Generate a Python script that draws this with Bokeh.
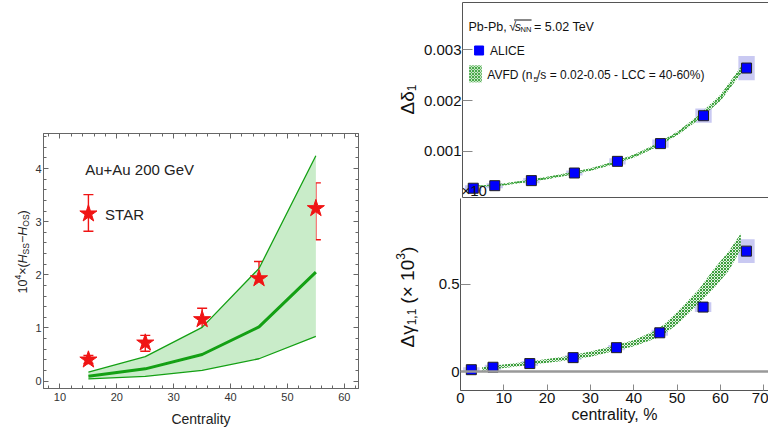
import numpy as np
from bokeh.plotting import figure
from bokeh.layouts import row, column
from bokeh.models import (Range1d, LinearAxis, SingleIntervalTicker, FixedTicker,
                          Label, Span, Whisker, TeeHead, ColumnDataSource,
                          PrintfTickFormatter)
from bokeh.embed import file_html
from bokeh.resources import INLINE

# ---------------- data: left panel (STAR, Au+Au 200 GeV) ----------------
star_cent = [15, 25, 35, 45, 55]
star_val = [0.40, 0.72, 1.16, 1.93, 3.25]
star_lo = [0.33, 0.56, 0.92, 1.56, 2.66]
star_hi = [0.48, 0.86, 1.37, 2.25, 3.73]
legend_star_cent = [15]
legend_star_val = [3.15]
legend_star_lo = [2.82]
legend_star_hi = [3.51]
model_cent = [15, 25, 35, 45, 55]
model_upper = [0.17, 0.46, 1.01, 2.12, 4.24]
model_mid = [0.09, 0.23, 0.50, 1.02, 2.05]
model_lower = [0.04, 0.09, 0.20, 0.42, 0.84]

# ---------------- data: right panels (ALICE, Pb-Pb 5.02 TeV) ----------------
alice_cent = [2.5, 7.5, 16, 26, 36, 46, 56, 66]
alice_d1 = [0.00027, 0.00032, 0.00042, 0.00057, 0.00080, 0.00115, 0.00170, 0.00264]
alice_d1_sys = [0.00006, 0.00005, 0.00005, 0.00005, 0.00006, 0.00008, 0.00014, 0.00024]
alice_g11 = [0.011, 0.025, 0.046, 0.080, 0.137, 0.222, 0.369, 0.689]
alice_g11_sys = [0.014, 0.014, 0.014, 0.014, 0.015, 0.017, 0.028, 0.068]

avfd_cent_d = [3, 5, 10, 15, 20, 25, 30, 35, 40, 45, 50, 55, 60, 65.5]
avfd_d1_lo = [0.000295, 0.00030, 0.00033, 0.00039, 0.00045, 0.00053, 0.00062,
              0.00074, 0.00088, 0.00108, 0.00132, 0.00163, 0.00200, 0.00262]
avfd_d1_hi = [0.000325, 0.00033, 0.00037, 0.00043, 0.00050, 0.00058, 0.00067,
              0.00079, 0.00094, 0.00114, 0.00139, 0.00172, 0.00212, 0.00276]
avfd_cent_g = [5, 10, 15, 20, 25, 30, 35, 40, 45, 47, 50, 55, 58.6, 62, 64.7]
avfd_g_lo = [0.005, 0.02, 0.035, 0.05, 0.065, 0.085, 0.115, 0.145, 0.19, 0.215,
             0.27, 0.39, 0.48, 0.58, 0.70]
avfd_g_hi = [0.025, 0.04, 0.055, 0.072, 0.09, 0.115, 0.145, 0.18, 0.235, 0.27,
             0.34, 0.47, 0.59, 0.69, 0.79]

x_ticks_right = [0, 10, 20, 30, 40, 50, 60, 70]

FONT = "Liberation Sans"


def conv(x0, x1, y0, y1, fl, fr, ft, fb):
    """map page pixel positions to data coordinates of a frame"""
    def cx(px):
        return x0 + (px - fl) * (x1 - x0) / (fr - fl)

    def cy(py):
        return y1 - (py - ft) * (y1 - y0) / (fb - ft)
    return cx, cy


def rot_label(p, cx, cy, pieces, x_center, y_start, color="#111111"):
    y = y_start
    for text, size, shift, width, style in pieces:
        p.add_layout(Label(x=cx(x_center + shift), y=cy(y), text=text,
                           angle=np.pi / 2, text_align="left",
                           text_baseline="middle", text_font=FONT,
                           text_font_size=f"{size}px", text_font_style=style,
                           text_color=color))
        y -= width


def hlabel(p, cx, cy, px, py, text, size, style="normal", color="#111111"):
    p.add_layout(Label(x=cx(px), y=cy(py), text=text, text_align="left",
                       text_baseline="middle", text_font=FONT,
                       text_font_size=f"{size}px", text_font_style=style,
                       text_color=color))


def strip_fig(page_x0, w, page_y0, h, frame_top, frame_bottom):
    """blank figure whose frame maps 1:1 onto page pixels (y data = -page y)"""
    f = figure(width=w, height=h, x_range=Range1d(page_x0, page_x0 + w),
               y_range=Range1d(-frame_bottom, -frame_top),
               x_axis_type=None, y_axis_type=None, output_backend="svg",
               toolbar_location=None, min_border=0, min_border_left=0,
               min_border_right=0, min_border_top=frame_top - page_y0,
               min_border_bottom=page_y0 + h - frame_bottom)
    f.outline_line_color = None
    f.xgrid.visible = False
    f.ygrid.visible = False
    return f


def page_xy(px):
    return px


def page_y(py):
    return -py


# ======================= LEFT PANEL =======================
LX0, LX1, LY0, LY1 = 7.1, 62.5, -0.14, 4.66
LAB_L_W = 32
pl = figure(width=380 - LAB_L_W, height=432, x_range=Range1d(LX0, LX1),
            y_range=Range1d(LY0, LY1),
            x_axis_type=None, y_axis_type=None, output_backend="svg",
            toolbar_location=None, min_border_left=41 - LAB_L_W, min_border_right=22,
            min_border_top=133, min_border_bottom=44)
pl.outline_line_color = "#666666"
pl.xgrid.visible = False
pl.ygrid.visible = False

frame_col = "#666666"


def style_frame_axis(ax, labels=True):
    ax.axis_line_color = frame_col
    ax.major_tick_line_color = frame_col
    ax.minor_tick_line_color = frame_col
    ax.major_tick_in = 5
    ax.major_tick_out = 0
    ax.minor_tick_in = 3
    ax.minor_tick_out = 0
    ax.major_label_text_font = FONT
    ax.major_label_text_font_size = "11px"
    ax.major_label_text_color = "#333333" if labels else None
    ax.major_label_standoff = 2 if labels else 0


xb = LinearAxis(ticker=SingleIntervalTicker(interval=10, num_minor_ticks=5),
                axis_label="Centrality")
style_frame_axis(xb)
xb.major_label_standoff = 4
xb.axis_label_text_font = FONT
xb.axis_label_text_font_size = "14px"
xb.axis_label_text_font_style = "normal"
xb.axis_label_text_color = "#222222"
xb.axis_label_standoff = 7
pl.add_layout(xb, "below")
yl = LinearAxis(ticker=SingleIntervalTicker(interval=1, num_minor_ticks=5))
style_frame_axis(yl)
pl.add_layout(yl, "left")
xa = LinearAxis(ticker=SingleIntervalTicker(interval=10, num_minor_ticks=5))
style_frame_axis(xa, labels=False)
pl.add_layout(xa, "above")
yr = LinearAxis(ticker=SingleIntervalTicker(interval=1, num_minor_ticks=5))
style_frame_axis(yr, labels=False)
pl.add_layout(yr, "right")

green = "#14a014"
pl.varea(x=model_cent, y1=model_lower, y2=model_upper, fill_color="#c9ecc9", fill_alpha=1.0)
pl.line(model_cent, model_upper, line_color=green, line_width=1.3)
pl.line(model_cent, model_lower, line_color=green, line_width=1.3)
pl.line(model_cent, model_mid, line_color=green, line_width=3)

star_src = ColumnDataSource(dict(x=star_cent + legend_star_cent,
                                 y=star_val + legend_star_val,
                                 lo=star_lo + legend_star_lo,
                                 hi=star_hi + legend_star_hi))
red = "#f01414"
pl.add_layout(Whisker(source=star_src, base="x", lower="lo", upper="hi",
                      line_color=red, line_width=1.4,
                      upper_head=TeeHead(size=10, line_color=red, line_width=1.4),
                      lower_head=TeeHead(size=10, line_color=red, line_width=1.4)))
pl.scatter("x", "y", source=star_src, marker="star", size=18,
           fill_color=red, line_color=red)

lcx, lcy = conv(LX0, LX1, LY0, LY1, 41, 358, 133, 388)
hlabel(pl, lcx, lcy, 83, 169, "Au+Au  200 GeV", 15, color="#222222")
hlabel(pl, lcx, lcy, 103, 214, "STAR", 15, color="#222222")

# y-axis title 10^4 x (H_SS - H_OS), composed in its own strip
lab_l = strip_fig(0, LAB_L_W, 0, 432, 133, 388)
fs, ss = 12.5, 8.5
left_pieces = [
    ("10", fs, 0, 1.112 * fs, "normal"),
    ("4", ss, -5, 0.556 * ss, "normal"),
    ("×(", fs, 0, 0.917 * fs, "normal"),
    ("H", fs, 0, 0.722 * fs, "italic"),
    ("SS", ss, 3, 1.334 * ss, "normal"),
    ("−", fs, 0, 0.584 * fs, "normal"),
    ("H", fs, 0, 0.722 * fs, "italic"),
    ("OS", ss, 3, 1.445 * ss, "normal"),
    (")", fs, 0, 0.333 * fs, "normal"),
]
rot_label(lab_l, page_xy, page_y, left_pieces, 22, 293, color="#222222")

# ======================= RIGHT PANELS =======================
LAB_R_X0, LAB_R_W = 380, 40
RW = 768 - LAB_R_X0 - LAB_R_W
FL = 460
RX0, RX1 = 0, 71.1
TY0, TY1 = 0.000087, 0.003933
axis_col = "#555555"


def line_only_axis(ax):
    ax.axis_line_color = axis_col
    ax.major_tick_in = 0
    ax.major_tick_out = 0
    ax.minor_tick_in = 0
    ax.minor_tick_out = 0
    ax.major_tick_line_color = None
    ax.minor_tick_line_color = None
    ax.major_label_text_color = None
    ax.major_label_standoff = 0


def style_right_y(ax):
    ax.axis_line_color = axis_col
    ax.major_tick_line_color = "#888888"
    ax.major_tick_in = 10
    ax.major_tick_out = 0
    ax.minor_tick_line_color = None
    ax.major_label_text_font = FONT
    ax.major_label_text_font_size = "15px"
    ax.major_label_text_color = "#111111"
    ax.major_label_standoff = 1


pt = figure(width=RW, height=198, x_range=Range1d(RX0, RX1), y_range=Range1d(TY0, TY1),
            x_axis_type=None, y_axis_type=None, output_backend="svg",
            toolbar_location=None, min_border_left=FL - LAB_R_X0 - LAB_R_W,
            min_border_right=0, min_border_top=2, min_border_bottom=1)
pt.outline_line_color = None
pt.xgrid.visible = False
pt.ygrid.visible = False

ty_ax = LinearAxis(ticker=FixedTicker(ticks=[0.001, 0.002, 0.003]),
                   formatter=PrintfTickFormatter(format="%.3f"))
style_right_y(ty_ax)
pt.add_layout(ty_ax, "left")
ta = LinearAxis(ticker=FixedTicker(ticks=[]))
line_only_axis(ta)
pt.add_layout(ta, "above")
tb = LinearAxis(ticker=FixedTicker(ticks=[]))
line_only_axis(tb)
pt.add_layout(tb, "below")

sys_fill = "#c9c9f2"
box_w = 3.8
pt.rect(x=alice_cent, y=alice_d1, width=box_w, height=[2 * s for s in alice_d1_sys],
        fill_color=sys_fill, line_color=None)
hatch_green = "#3a9e3a"
pt.varea(x=avfd_cent_d, y1=avfd_d1_lo, y2=avfd_d1_hi, fill_color="#d5ecd5",
         fill_alpha=0.7, hatch_pattern="diagonal_cross", hatch_color=hatch_green,
         hatch_scale=3, hatch_weight=1)
pt.line(x=avfd_cent_d, y=[(a + b) / 2 for a, b in zip(avfd_d1_lo, avfd_d1_hi)],
        line_color="#4caf4c", line_width=1.4, line_dash="2 2")
pt.scatter(x=alice_cent, y=alice_d1, marker="square", size=10, fill_color="#0000ff",
           line_color="#222222", line_width=1)

tcx, tcy = conv(RX0, RX1, TY0, TY1, FL, 768, 2, 197)
# legend block
hlabel(pt, tcx, tcy, 466, 26, "Pb-Pb,", 12.5)
hlabel(pt, tcx, tcy, 507, 26.5, "√", 12.5)
hlabel(pt, tcx, tcy, 512.5, 26, "s", 12.5, style="italic")
hlabel(pt, tcx, tcy, 518.5, 29, "NN", 7.5)
pt.segment(x0=[tcx(512)], y0=[tcy(19.5)], x1=[tcx(529.5)], y1=[tcy(19.5)],
           line_color="#111111", line_width=1)
hlabel(pt, tcx, tcy, 532, 26, "= 5.02 TeV", 12.5)
pt.scatter(x=[tcx(476.7)], y=[tcy(50)], marker="square", size=9,
           fill_color="#0000ff", line_color="#0000ff")
hlabel(pt, tcx, tcy, 487.7, 50, "ALICE", 12)
pt.quad(left=[tcx(466.7)], right=[tcx(479.3)], top=[tcy(65)], bottom=[tcy(81.7)],
        fill_color="#c4e6c4", fill_alpha=1.0, hatch_pattern="diagonal_cross",
        hatch_color="#4aa84a", hatch_scale=3, hatch_weight=1, line_color=None)
hlabel(pt, tcx, tcy, 485, 74, "AVFD (n", 12)
hlabel(pt, tcx, tcy, 531.5, 79, "5", 8)
hlabel(pt, tcx, tcy, 535, 74, "/s = 0.02-0.05 - LCC = 40-60%)", 12)
pt.add_layout(Label(x=tcx(459), y=tcy(190), text="×10", text_align="left",
                    text_baseline="alphabetic", text_font=FONT,
                    text_font_size="15px", text_color="#111111"))

BY0, BY1 = -0.108, 0.99
pb = figure(width=RW, height=234, x_range=Range1d(RX0, RX1), y_range=Range1d(BY0, BY1),
            x_axis_type=None, y_axis_type=None, output_backend="svg",
            toolbar_location=None, min_border_left=FL - LAB_R_X0 - LAB_R_W,
            min_border_right=0, min_border_top=0, min_border_bottom=42)
pb.outline_line_color = None
pb.xgrid.visible = False
pb.ygrid.visible = False

by_ax = LinearAxis(ticker=FixedTicker(ticks=[0, 0.5]))
style_right_y(by_ax)
pb.add_layout(by_ax, "left")
bx_ax = LinearAxis(ticker=FixedTicker(ticks=x_ticks_right), axis_label="centrality, %")
bx_ax.axis_line_color = axis_col
bx_ax.major_tick_line_color = "#888888"
bx_ax.major_tick_in = 6
bx_ax.major_tick_out = 0
bx_ax.minor_tick_line_color = None
bx_ax.major_label_text_font = FONT
bx_ax.major_label_text_font_size = "15px"
bx_ax.major_label_text_color = "#111111"
bx_ax.major_label_standoff = 2
bx_ax.axis_label_text_font = FONT
bx_ax.axis_label_text_font_size = "16px"
bx_ax.axis_label_text_font_style = "normal"
bx_ax.axis_label_text_color = "#111111"
bx_ax.axis_label_standoff = 0
pb.add_layout(bx_ax, "below")

pb.add_layout(Span(location=0, dimension="width", line_color="#999999", line_width=2.5))
pb.rect(x=alice_cent, y=alice_g11, width=box_w, height=[2 * s for s in alice_g11_sys],
        fill_color=sys_fill, line_color=None)
pb.varea(x=avfd_cent_g, y1=avfd_g_lo, y2=avfd_g_hi, fill_color="#d5ecd5",
         fill_alpha=0.7, hatch_pattern="diagonal_cross", hatch_color=hatch_green,
         hatch_scale=3, hatch_weight=1)
pb.scatter(x=alice_cent, y=alice_g11, marker="square", size=10, fill_color="#0000ff",
           line_color="#222222", line_width=1)

# right y-axis titles, each in a strip beside its panel
lab_rt = strip_fig(LAB_R_X0, LAB_R_W, 0, 198, 2, 197)
top_pieces = [
    ("Δδ", 19, 0, (0.668 + 0.556) * 19, "normal"),
    ("1", 12, 4, 0.556 * 12, "normal"),
]
rot_label(lab_rt, page_xy, page_y, top_pieces, 407, 114)

lab_rb = strip_fig(LAB_R_X0, LAB_R_W, 198, 234, 198, 390)
bot_pieces = [
    ("Δγ", 19, 0, (0.668 + 0.5) * 19, "normal"),
    ("1,1", 12, 4, (0.556 + 0.278 + 0.556) * 12 + 5, "normal"),
    ("(× 10", 19, 0, (0.333 + 0.584 + 0.278 + 0.556 + 0.556) * 19, "normal"),
    ("3", 12, -7, 0.556 * 12, "normal"),
    (")", 19, 0, 0.333 * 19, "normal"),
]
rot_label(lab_rb, page_xy, page_y, bot_pieces, 407, 347)

layout = row(lab_l, pl, column(row(lab_rt, pt), row(lab_rb, pb)))
open("out.html", "w").write(file_html(layout, INLINE))
